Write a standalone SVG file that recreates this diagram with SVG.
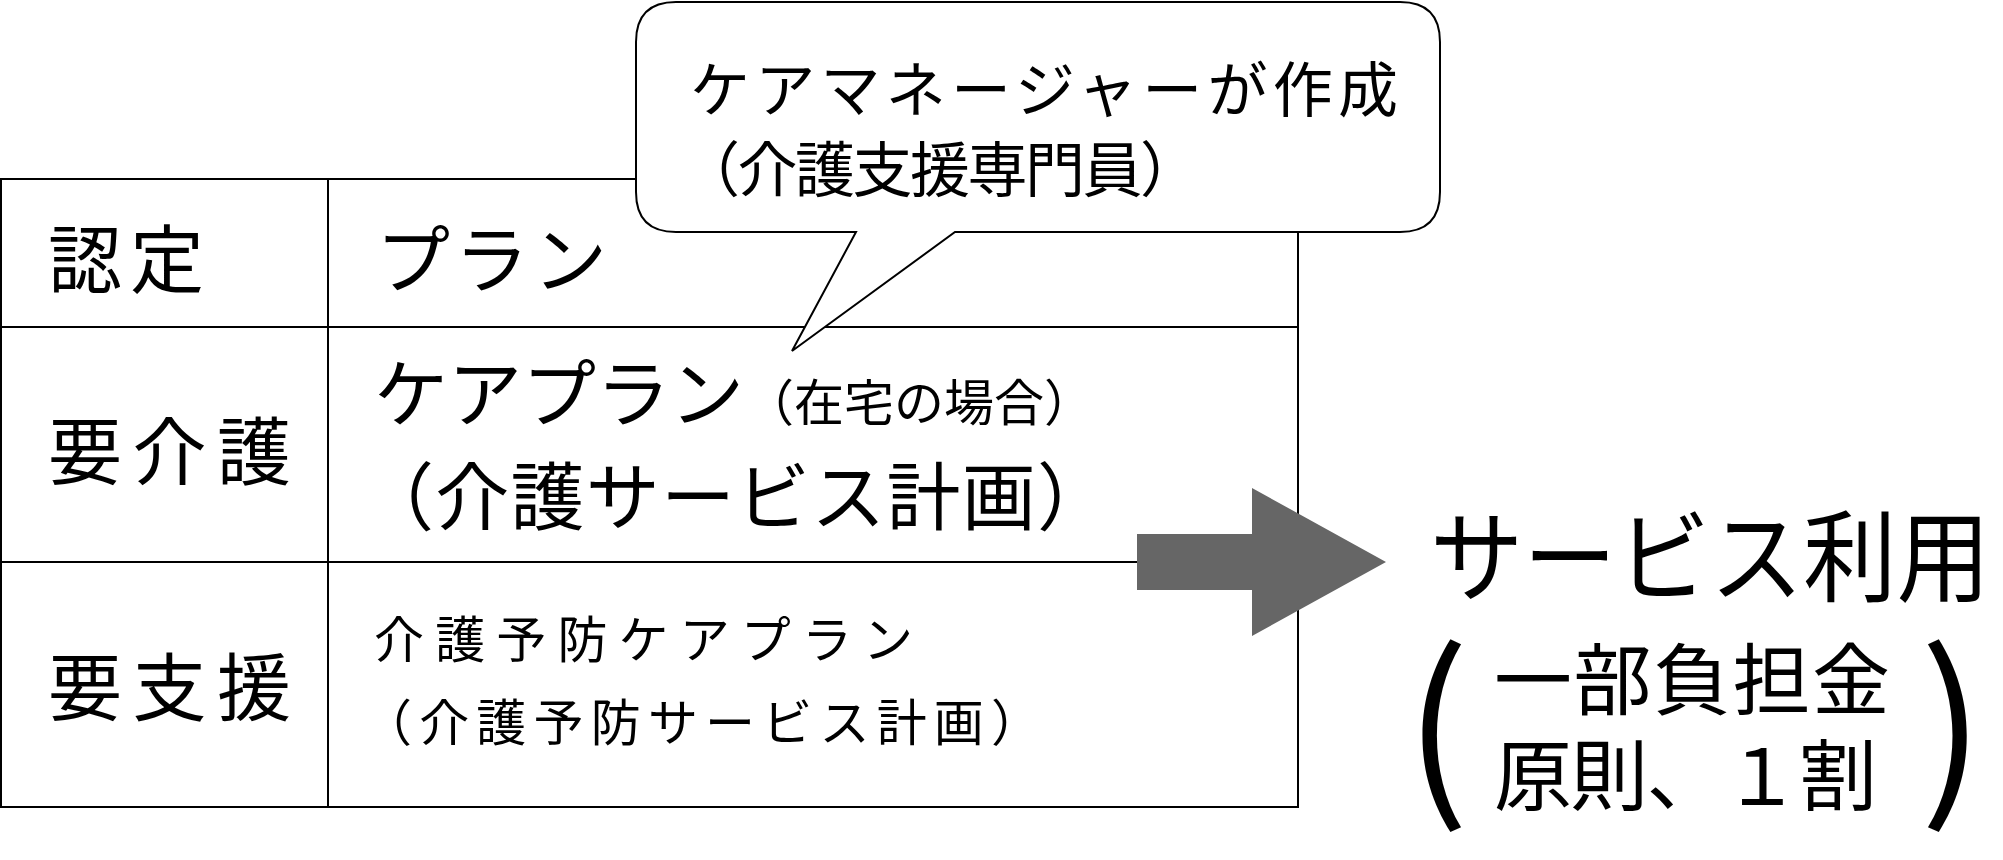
<svg xmlns="http://www.w3.org/2000/svg" width="2003" height="860" viewBox="0 0 2003 860">
<style>
text{font-family:"Noto Sans CJK JP","Liberation Sans",sans-serif;fill:#000}
.ln{stroke:#000;stroke-width:2;fill:none}
</style>
<rect width="2003" height="860" fill="#fff"/>
<g id="table">
<rect class="ln" x="1" y="179" width="1297" height="628"/>
<line class="ln" x1="0" y1="327" x2="1298" y2="327"/>
<line class="ln" x1="0" y1="562" x2="1298" y2="562"/>
<line class="ln" x1="328" y1="179" x2="328" y2="807"/>
<text x="48" y="287" font-size="74" textLength="156">認定</text>
<text x="376" y="287" font-size="74" textLength="231">プラン</text>
<text x="48" y="479" font-size="74" textLength="243">要介護</text>
<text x="48" y="715" font-size="74" textLength="243">要支援</text>
<text x="374" y="421" font-size="74">ケアプラン<tspan font-size="50">（在宅の場合）</tspan></text>
<text x="360" y="524" font-size="74" textLength="751">（介護サービス計画）</text>
<text x="374" y="658" font-size="50" textLength="539">介護予防ケアプラン</text>
<text x="362" y="741" font-size="50" textLength="679">（介護予防サービス計画）</text>
</g>
<g id="callout">
<path d="M676,2 H1400 Q1440,2 1440,42 V192 Q1440,232 1400,232 H955 L792,351 L856,232 H676 Q636,232 636,192 V42 Q636,2 676,2 Z" fill="#fff" stroke="#000" stroke-width="2"/>
<text x="690" y="112" font-size="60" textLength="708">ケアマネージャーが作成</text>
<text x="680" y="192" font-size="60" textLength="520">（介護支援専門員）</text>
</g>
<g id="connectors">
<polygon points="1137,534 1252,534 1252,488 1386,562 1252,636 1252,590 1137,590" fill="#666"/>
</g>
<g id="result">
<text x="1430" y="594" font-size="100" textLength="560" lengthAdjust="spacingAndGlyphs">サービス利用</text>
<text x="1494" y="709" font-size="78" textLength="396">一部負担金</text>
<text x="1494" y="805" font-size="78" textLength="383">原則、１割</text>
<text x="1405" y="795" font-size="190" font-family="Liberation Sans, sans-serif">(</text>
<text x="1920" y="795" font-size="190" font-family="Liberation Sans, sans-serif">)</text>
</g>
</svg>
